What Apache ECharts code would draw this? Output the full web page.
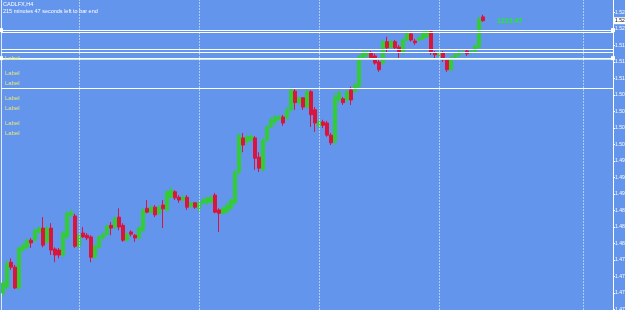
<!DOCTYPE html>
<html><head><meta charset="utf-8">
<script src="https://cdn.jsdelivr.net/npm/echarts@6/dist/echarts.min.js"></script>
<style>html,body{margin:0;padding:0;background:#6495ED;}#c{width:625px;height:310px;}</style>
</head><body><div id="c"></div>
<script>
// H4 candles, oldest -> newest
const opens = [1.4730,1.4741,1.4786,1.4777,1.4739,1.4808,1.4813,1.4826,1.4826,1.4841,
1.4848,1.4823,1.4848,1.4810,1.4808,1.4799,1.4832,1.4872,1.4870,1.4815,
1.4839,1.4835,1.4832,1.4795,1.4813,1.4830,1.4837,1.4853,1.4850,1.4868,
1.4853,1.4826,1.4841,1.4835,1.4830,1.4844,1.4884,1.4877,1.4886,1.4875,
1.4890,1.4881,1.4904,1.4914,1.4904,1.4899,1.4904,1.4888,1.4894,1.4884,
1.4894,1.4894,1.4895,1.4908,1.4881,1.4875,1.4877,1.4884,1.4894,1.4950,
1.5012,1.5005,1.5008,1.5012,1.4977,1.4954,1.5008,1.5032,1.5041,1.5046,
1.5050,1.5048,1.5063,1.5097,1.5076,1.5085,1.5068,1.5096,1.5063,1.5034,
1.5041,1.5039,1.5017,1.5005,1.5081,1.5083,1.5081,1.5099,1.5096,1.5105,
1.5157,1.5163,1.5167,1.5161,1.5150,1.5148,1.5187,1.5177,1.5187,1.5177,
1.5167,1.5190,1.5201,1.5188,1.5190,1.5192,1.5196,1.5205,1.5167,1.5163,
1.5167,1.5154,1.5136,1.5157,1.5163,1.5167,1.5170,1.5167,1.5168,1.5177,
1.5232];
const closes = [1.4748,1.4784,1.4777,1.4739,1.4812,1.4817,1.4826,1.4821,1.4844,1.4848,
1.4817,1.4848,1.4808,1.4799,1.4799,1.4839,1.4875,1.4877,1.4815,1.4835,
1.4832,1.4830,1.4795,1.4815,1.4832,1.4837,1.4852,1.4848,1.4866,1.4850,
1.4826,1.4837,1.4837,1.4830,1.4848,1.4881,1.4877,1.4886,1.4872,1.4886,
1.4883,1.4914,1.4917,1.4903,1.4899,1.4904,1.4886,1.4894,1.4886,1.4894,
1.4899,1.4903,1.4904,1.4877,1.4875,1.4884,1.4890,1.4899,1.4950,1.5017,
1.4999,1.5014,1.5015,1.4975,1.4957,1.5008,1.5032,1.5045,1.5050,1.5050,
1.5039,1.5063,1.5099,1.5076,1.5085,1.5068,1.5096,1.5054,1.5039,1.5041,
1.5035,1.5017,1.5003,1.5086,1.5094,1.5076,1.5096,1.5081,1.5108,1.5159,
1.5168,1.5168,1.5157,1.5148,1.5136,1.5187,1.5176,1.5187,1.5176,1.5167,
1.5190,1.5203,1.5190,1.5185,1.5194,1.5203,1.5207,1.5167,1.5163,1.5167,
1.5154,1.5136,1.5157,1.5163,1.5168,1.5168,1.5165,1.5168,1.5179,1.5227,
1.5225];
const lows = [1.4722,1.4737,1.4772,1.4737,1.4735,1.4804,1.4810,1.4812,1.4823,1.4837,
1.4813,1.4819,1.4799,1.4786,1.4793,1.4795,1.4828,1.4868,1.4812,1.4812,
1.4830,1.4826,1.4786,1.4792,1.4810,1.4826,1.4833,1.4835,1.4846,1.4844,
1.4823,1.4823,1.4833,1.4823,1.4826,1.4841,1.4875,1.4874,1.4868,1.4872,
1.4848,1.4877,1.4903,1.4899,1.4894,1.4895,1.4881,1.4884,1.4883,1.4877,
1.4890,1.4890,1.4894,1.4875,1.4841,1.4872,1.4874,1.4881,1.4890,1.4944,
1.4986,1.4999,1.5005,1.4954,1.4950,1.4950,1.5005,1.5030,1.5035,1.5043,
1.5034,1.5045,1.5059,1.5063,1.5072,1.5063,1.5066,1.5032,1.5023,1.5030,
1.5030,1.5014,1.4999,1.4999,1.5076,1.5072,1.5076,1.5072,1.5094,1.5103,
1.5154,1.5159,1.5154,1.5145,1.5132,1.5145,1.5168,1.5176,1.5172,1.5157,
1.5163,1.5187,1.5187,1.5181,1.5187,1.5190,1.5194,1.5163,1.5154,1.5159,
1.5150,1.5132,1.5132,1.5154,1.5159,1.5163,1.5161,1.5163,1.5165,1.5176,
1.5223];
const highs = [1.4753,1.4790,1.4793,1.4781,1.4815,1.4821,1.4830,1.4830,1.4848,1.4852,
1.4868,1.4852,1.4857,1.4813,1.4812,1.4843,1.4879,1.4883,1.4874,1.4839,
1.4850,1.4839,1.4835,1.4819,1.4835,1.4841,1.4855,1.4859,1.4870,1.4884,
1.4857,1.4841,1.4844,1.4837,1.4852,1.4884,1.4899,1.4890,1.4890,1.4890,
1.4899,1.4917,1.4924,1.4917,1.4908,1.4908,1.4908,1.4895,1.4895,1.4895,
1.4903,1.4904,1.4908,1.4912,1.4884,1.4888,1.4894,1.4903,1.4954,1.5021,
1.5021,1.5017,1.5021,1.5015,1.4986,1.5012,1.5035,1.5050,1.5054,1.5054,
1.5054,1.5068,1.5103,1.5103,1.5086,1.5086,1.5099,1.5099,1.5068,1.5045,
1.5045,1.5043,1.5021,1.5094,1.5099,1.5086,1.5099,1.5105,1.5112,1.5163,
1.5172,1.5172,1.5170,1.5165,1.5154,1.5190,1.5196,1.5190,1.5190,1.5181,
1.5194,1.5207,1.5205,1.5192,1.5197,1.5207,1.5208,1.5208,1.5170,1.5170,
1.5170,1.5157,1.5161,1.5167,1.5172,1.5172,1.5172,1.5172,1.5183,1.5234,
1.5236];
// empty bars to the right (chart shift)
const shiftBars = 32;
// horizontal object levels
const levelsAnchored = [1.5208, 1.5157];
const levelsPlain = [1.5204, 1.5173, 1.5168, 1.5103];
const levelsGreen = [1.5155];
// vertical grid (bar index)
const vGrid = [19, 49, 79, 109, 145];
const yMin = 1.470, yMax = 1.52627, yStep = 0.003;
const titleText = 'CADLFX,H4';
const timerText = '215 minutes 47 seconds left to bar end';
const labelTexts = ['Label','Label','Label','Label','Label','Label','Label'];
const labelY = [58, 73, 83, 98, 108, 123, 133];
const greenText = '1219.47';

const n = opens.length;
const categories = [];
for (let i = 0; i < n + shiftBars; i++) categories.push(String(i));
const ohlc = opens.map((o, i) => [o, closes[i], lows[i], highs[i]]);

function helper(name, items, extra) {
  return {
    name: name, type: 'line', data: [], silent: true, symbol: 'none',
    markLine: Object.assign({silent: true, symbol: 'none', precision: 6, animation: false,
      label: {show: false}, data: items}, extra || {})
  };
}
const seriesList = [{
  type: 'candlestick', data: ohlc, barWidth: 3,
  itemStyle: {color: '#32CD32', color0: '#DC143C', borderColor: '#32CD32', borderColor0: '#DC143C', borderWidth: 1}
}];
levelsPlain.forEach((v, k) => seriesList.push(helper('p' + k, [{yAxis: v}],
  {lineStyle: {color: '#ffffff', width: 1, type: 'solid'}})));
levelsGreen.forEach((v, k) => seriesList.push(helper('g' + k, [{yAxis: v}],
  {lineStyle: {color: '#c0ecd8', width: 2, type: 'solid'}})));
levelsAnchored.forEach((v, k) => seriesList.push(helper('a' + k, [{yAxis: v}],
  {symbol: ['rect', 'rect'], symbolSize: 4, lineStyle: {color: '#ffffff', width: 1, type: 'solid'}})));
vGrid.forEach((v, k) => seriesList.push(helper('v' + k, [{xAxis: v}],
  {lineStyle: {color: '#ffffff', width: 1, type: [1, 2]}})));
seriesList.push(helper('price', [{yAxis: closes[n - 1]}], {
  z: 20,
  lineStyle: {color: 'rgba(255,255,255,0)', width: 1},
  label: {show: true, position: 'end', distance: 0, formatter: p => Number(p.value).toFixed(5),
    backgroundColor: '#ffffff', color: '#000000', fontSize: 5, padding: [1, 1, 1, 2],
    fontFamily: 'Liberation Sans', opacity: 1}}));

const chart = echarts.init(document.getElementById('c'), null, {renderer: 'canvas'});
const graphics = [
  {type: 'text', z: 50, left: 3, top: 1, style: {text: titleText, fill: '#ffffff', font: '5.5px "Liberation Sans"'}},
  {type: 'text', z: 50, left: 3, top: 8, style: {text: timerText, fill: '#ffffff', font: '5.5px "Liberation Sans"'}},
  {type: 'text', z: 50, left: 497, top: 18, style: {text: greenText, fill: '#22ee22', font: 'bold 7px "Liberation Sans"'}}
];
labelTexts.forEach((t, k) => graphics.push({type: 'text', z: 50, left: 5, top: labelY[k] - 3,
  style: {text: t, fill: '#e6e67a', font: '6px "Liberation Sans"'}}));

chart.setOption({
  animation: false,
  backgroundColor: '#6495ED',
  grid: {left: 1, right: 12, top: 0, bottom: 0.5, outerBoundsMode: 'none', containLabel: false},
  xAxis: {type: 'category', data: categories, boundaryGap: true,
    axisLine: {show: false}, axisTick: {show: false}, axisLabel: {show: false}, splitLine: {show: false}},
  yAxis: [{type: 'value', position: 'right', min: yMin, max: yMax, interval: yStep,
    axisLine: {show: true, lineStyle: {color: '#ffffff', width: 1}},
    axisTick: {show: true, length: 2, lineStyle: {color: '#ffffff'}},
    axisLabel: {show: true, color: '#ffffff', fontSize: 5, margin: 2, fontFamily: 'Liberation Sans',
      formatter: v => v.toFixed(5), showMaxLabel: false},
    splitLine: {show: false}},
   {type: 'value', position: 'left', min: yMin, max: yMax,
    axisLine: {show: true, lineStyle: {color: '#dfe8ff', width: 1}},
    axisTick: {show: false}, axisLabel: {show: false}, splitLine: {show: false}}],
  series: seriesList,
  graphic: graphics
});
</script></body></html>
